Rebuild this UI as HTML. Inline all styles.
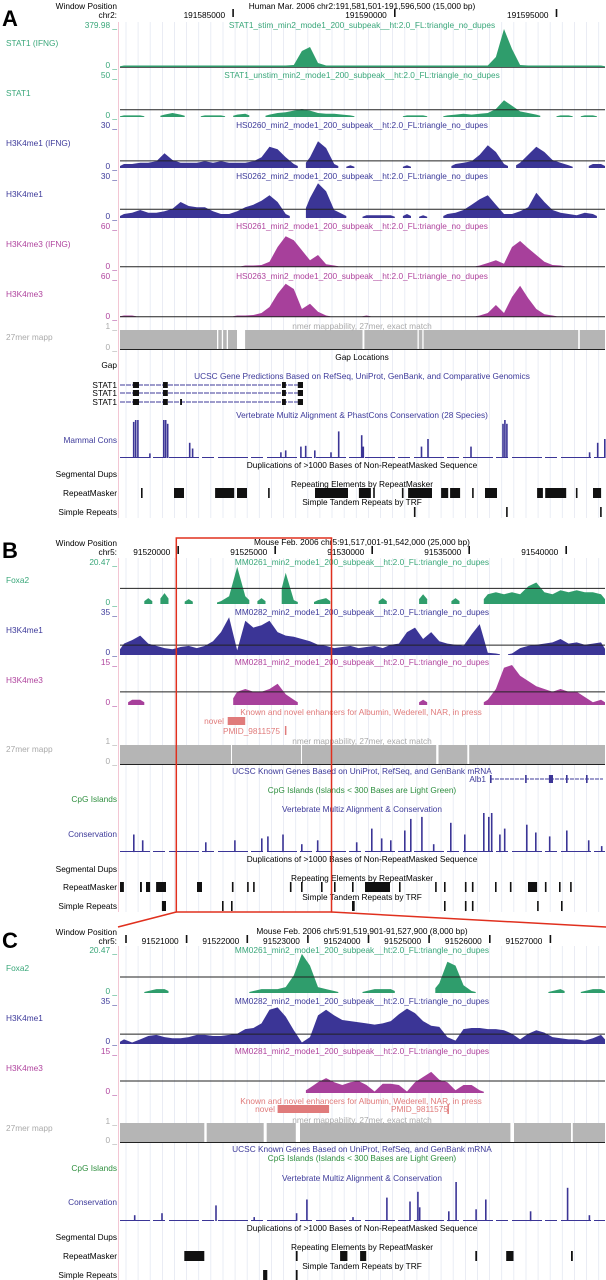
<!DOCTYPE html>
<html><head><meta charset="utf-8">
<style>
html,body{margin:0;padding:0;background:#fff;}
svg{display:block;font-family:"Liberation Sans",sans-serif;}
text{font-size:8.3px;}
.t{text-anchor:middle;}
.r{text-anchor:end;}
</style></head>
<body>
<svg id="fig" width="606" height="1280" viewBox="0 0 606 1280" xmlns="http://www.w3.org/2000/svg">
<rect width="606" height="1280" fill="#fff"/>
<g id="grid"></g>
<g id="marks"></g>

<!-- Panel A text -->
<g>
<text x="2" y="26" style="font-size:22px;font-weight:bold">A</text>
<text x="117" y="9" class="r">Window Position</text>
<text x="117" y="18" class="r">chr2:</text>
<text x="362" y="9" class="t">Human Mar. 2006   chr2:191,581,501-191,596,500 (15,000 bp)</text>
<text x="117" y="28" class="r" fill="#3aa77a">379.98 _</text>
<text x="117" y="68" class="r" fill="#3aa77a">0 _</text>
<text x="362" y="28" class="t" fill="#3aa77a">STAT1_stim_min2_mode1_200_subpeak__ht:2.0_FL:triangle_no_dupes</text>
<text x="6" y="46" fill="#3aa77a">STAT1 (IFNG)</text>
<text x="117" y="78" class="r" fill="#3aa77a">50 _</text>
<text x="117" y="118" class="r" fill="#3aa77a">0 _</text>
<text x="362" y="78" class="t" fill="#3aa77a">STAT1_unstim_min2_mode1_200_subpeak__ht:2.0_FL:triangle_no_dupes</text>
<text x="6" y="96" fill="#3aa77a">STAT1</text>
<text x="117" y="128" class="r" fill="#3d3a9a">30 _</text>
<text x="117" y="169" class="r" fill="#3d3a9a">0 _</text>
<text x="362" y="128" class="t" fill="#3d3a9a">HS0260_min2_mode1_200_subpeak__ht:2.0_FL:triangle_no_dupes</text>
<text x="6" y="146" fill="#3d3a9a">H3K4me1 (IFNG)</text>
<text x="117" y="179" class="r" fill="#3d3a9a">30 _</text>
<text x="117" y="219" class="r" fill="#3d3a9a">0 _</text>
<text x="362" y="179" class="t" fill="#3d3a9a">HS0262_min2_mode1_200_subpeak__ht:2.0_FL:triangle_no_dupes</text>
<text x="6" y="197" fill="#3d3a9a">H3K4me1</text>
<text x="117" y="229" class="r" fill="#b0449e">60 _</text>
<text x="117" y="269" class="r" fill="#b0449e">0 _</text>
<text x="362" y="229" class="t" fill="#b0449e">HS0261_min2_mode1_200_subpeak__ht:2.0_FL:triangle_no_dupes</text>
<text x="6" y="247" fill="#b0449e">H3K4me3 (IFNG)</text>
<text x="117" y="279" class="r" fill="#b0449e">60 _</text>
<text x="117" y="319" class="r" fill="#b0449e">0 _</text>
<text x="362" y="279" class="t" fill="#b0449e">HS0263_min2_mode1_200_subpeak__ht:2.0_FL:triangle_no_dupes</text>
<text x="6" y="297" fill="#b0449e">H3K4me3</text>
<text x="117" y="329" class="r" fill="#aaa">1 _</text>
<text x="117" y="350" class="r" fill="#aaa">0 _</text>
<text x="362" y="329" class="t" fill="#aaa">nmer mappability, 27mer, exact match</text>
<text x="6" y="340" fill="#aaa">27mer mapp</text>
<text x="362" y="360" class="t">Gap Locations</text>
<text x="117" y="368" class="r">Gap</text>
<text x="362" y="379" class="t" fill="#3d3a9a">UCSC Gene Predictions Based on RefSeq, UniProt, GenBank, and Comparative Genomics</text>
<text x="117" y="388" class="r">STAT1</text>
<text x="117" y="396" class="r">STAT1</text>
<text x="117" y="405" class="r">STAT1</text>
<text x="362" y="418" class="t" fill="#3d3a9a">Vertebrate Multiz Alignment &amp; PhastCons Conservation (28 Species)</text>
<text x="117" y="443" class="r" fill="#3d3a9a">Mammal Cons</text>
<text x="362" y="468" class="t">Duplications of &gt;1000 Bases of Non-RepeatMasked Sequence</text>
<text x="117" y="477" class="r">Segmental Dups</text>
<text x="362" y="487" class="t">Repeating Elements by RepeatMasker</text>
<text x="117" y="496" class="r">RepeatMasker</text>
<text x="362" y="505" class="t">Simple Tandem Repeats by TRF</text>
<text x="117" y="515" class="r">Simple Repeats</text>
</g>

<!-- Panel B text -->
<g>
<text x="2" y="558" style="font-size:22px;font-weight:bold">B</text>
<text x="117" y="546" class="r">Window Position</text>
<text x="117" y="555" class="r">chr5:</text>
<text x="362" y="545" class="t">Mouse Feb. 2006   chr5:91,517,001-91,542,000 (25,000 bp)</text>
<text x="117" y="565" class="r" fill="#3aa77a">20.47 _</text>
<text x="117" y="605" class="r" fill="#3aa77a">0 _</text>
<text x="362" y="565" class="t" fill="#3aa77a">MM0261_min2_mode1_200_subpeak__ht:2.0_FL:triangle_no_dupes</text>
<text x="6" y="583" fill="#3aa77a">Foxa2</text>
<text x="117" y="615" class="r" fill="#3d3a9a">35 _</text>
<text x="117" y="655" class="r" fill="#3d3a9a">0 _</text>
<text x="362" y="615" class="t" fill="#3d3a9a">MM0282_min2_mode1_200_subpeak__ht:2.0_FL:triangle_no_dupes</text>
<text x="6" y="633" fill="#3d3a9a">H3K4me1</text>
<text x="117" y="665" class="r" fill="#b0449e">15 _</text>
<text x="117" y="705" class="r" fill="#b0449e">0 _</text>
<text x="362" y="665" class="t" fill="#b0449e">MM0281_min2_mode1_200_subpeak__ht:2.0_FL:triangle_no_dupes</text>
<text x="6" y="683" fill="#b0449e">H3K4me3</text>
<text x="361" y="715" class="t" fill="#e07b7b">Known and novel enhancers for Albumin, Wederell, NAR, in press</text>
<text x="224" y="724" class="r" fill="#e07b7b">novel</text>
<text x="280" y="734" class="r" fill="#e07b7b">PMID_9811575</text>
<text x="117" y="744" class="r" fill="#aaa">1 _</text>
<text x="117" y="764" class="r" fill="#aaa">0 _</text>
<text x="362" y="744" class="t" fill="#aaa">nmer mappability, 27mer, exact match</text>
<text x="6" y="752" fill="#aaa">27mer mapp</text>
<text x="362" y="774" class="t" fill="#3d3a9a">UCSC Known Genes Based on UniProt, RefSeq, and GenBank mRNA</text>
<text x="486" y="782" class="r" fill="#3d3a9a">Alb1</text>
<text x="362" y="793" class="t" fill="#2f8f3f">CpG Islands (Islands &lt; 300 Bases are Light Green)</text>
<text x="117" y="802" class="r" fill="#2f8f3f">CpG Islands</text>
<text x="362" y="812" class="t" fill="#3d3a9a">Vertebrate Multiz Alignment &amp; Conservation</text>
<text x="117" y="837" class="r" fill="#3d3a9a">Conservation</text>
<text x="362" y="862" class="t">Duplications of &gt;1000 Bases of Non-RepeatMasked Sequence</text>
<text x="117" y="872" class="r">Segmental Dups</text>
<text x="362" y="881" class="t">Repeating Elements by RepeatMasker</text>
<text x="117" y="890" class="r">RepeatMasker</text>
<text x="362" y="900" class="t">Simple Tandem Repeats by TRF</text>
<text x="117" y="909" class="r">Simple Repeats</text>
</g>

<!-- Panel C text -->
<g>
<text x="2" y="948" style="font-size:22px;font-weight:bold">C</text>
<text x="117" y="935" class="r">Window Position</text>
<text x="117" y="944" class="r">chr5:</text>
<text x="362" y="934" class="t">Mouse Feb. 2006   chr5:91,519,901-91,527,900 (8,000 bp)</text>
<text x="117" y="953" class="r" fill="#3aa77a">20.47 _</text>
<text x="117" y="994" class="r" fill="#3aa77a">0 _</text>
<text x="362" y="953" class="t" fill="#3aa77a">MM0261_min2_mode1_200_subpeak__ht:2.0_FL:triangle_no_dupes</text>
<text x="6" y="971" fill="#3aa77a">Foxa2</text>
<text x="117" y="1004" class="r" fill="#3d3a9a">35 _</text>
<text x="117" y="1044" class="r" fill="#3d3a9a">0 _</text>
<text x="362" y="1004" class="t" fill="#3d3a9a">MM0282_min2_mode1_200_subpeak__ht:2.0_FL:triangle_no_dupes</text>
<text x="6" y="1021" fill="#3d3a9a">H3K4me1</text>
<text x="117" y="1054" class="r" fill="#b0449e">15 _</text>
<text x="117" y="1094" class="r" fill="#b0449e">0 _</text>
<text x="362" y="1054" class="t" fill="#b0449e">MM0281_min2_mode1_200_subpeak__ht:2.0_FL:triangle_no_dupes</text>
<text x="6" y="1071" fill="#b0449e">H3K4me3</text>
<text x="361" y="1104" class="t" fill="#e07b7b">Known and novel enhancers for Albumin, Wederell, NAR, in press</text>
<text x="275" y="1112" class="r" fill="#e07b7b">novel</text>
<text x="448" y="1112" class="r" fill="#e07b7b">PMID_9811575</text>
<text x="117" y="1124" class="r" fill="#aaa">1 _</text>
<text x="117" y="1143" class="r" fill="#aaa">0 _</text>
<text x="362" y="1123" class="t" fill="#aaa">nmer mappability, 27mer, exact match</text>
<text x="6" y="1131" fill="#aaa">27mer mapp</text>
<text x="362" y="1152" class="t" fill="#3d3a9a">UCSC Known Genes Based on UniProt, RefSeq, and GenBank mRNA</text>
<text x="362" y="1161" class="t" fill="#2f8f3f">CpG Islands (Islands &lt; 300 Bases are Light Green)</text>
<text x="117" y="1171" class="r" fill="#2f8f3f">CpG Islands</text>
<text x="362" y="1181" class="t" fill="#3d3a9a">Vertebrate Multiz Alignment &amp; Conservation</text>
<text x="117" y="1205" class="r" fill="#3d3a9a">Conservation</text>
<text x="362" y="1231" class="t">Duplications of &gt;1000 Bases of Non-RepeatMasked Sequence</text>
<text x="117" y="1240" class="r">Segmental Dups</text>
<text x="362" y="1250" class="t">Repeating Elements by RepeatMasker</text>
<text x="117" y="1259" class="r">RepeatMasker</text>
<text x="362" y="1269" class="t">Simple Tandem Repeats by TRF</text>
<text x="117" y="1278" class="r">Simple Repeats</text>
</g>
<g id="overlay"></g>
</svg>
<script>
// ---------- DATA ----------
const _ = null;
// panel A signals (60 bins across window)
const a1Stat1Ifng = [4,4,4,4,4,4,4,4,4,4, 4,4,4,4,4,4,4,4,4,4, 4,20,160,200,40,6,4,4,4,4, 4,4,4,4,4,4,4,4,4,4, 4,4,4,4,4,8,100,380,180,20, 15,6,4,4,4,4,4,4,4,4];
const a2Stat1 = [2,2,2,_,_,3,5,3,_,_, 2,2,2,_,3,4,_,_,3,5, 6,8,10,8,5,4,4,3,2,_, _,_,_,_,_,2,2,2,_,_, 2,3,4,3,4,5,10,21,14,7, 5,3,_,_,2,2,_,2,2,_];
const a3H3k4me1Ifng = [3,3,4,4,5,11,6,4,4,4, 5,4,5,4,4,4,5,8,16,14, 8,3,_,8,20,15,3,_,2,_, _,_,_,_,_,2,_,_,_,_, _,3,4,5,10,17,12,3,_,4, 10,16,12,6,4,2,_,_,3,3];
const a4H3k4me1 = [3,4,6,4,4,5,7,12,9,8, 8,5,3,3,5,8,10,13,17,12, 3,_,_,15,26,20,6,3,_,_, 2,2,2,2,_,3,_,2,_,_, 3,4,6,10,14,17,10,3,3,5, 8,19,12,6,4,3,2,4,3,_];
const a5H3k4me3Ifng = [_,_,_,_,_,_,_,_,_,_, _,_,_,_,_,1,2,3,8,30, 46,40,25,10,18,4,1,_,_,_, _,_,_,_,_,_,_,_,_,_, _,_,_,_,2,6,10,5,30,39, 28,18,8,3,1,_,_,_,_,_];
const a6H3k4me3 = [1,1,_,_,_,_,_,_,_,_, _,_,_,_,1,2,3,6,15,35, 50,42,12,20,8,1,_,_,_,_, 1,_,_,_,_,_,_,_,_,_, _,_,_,_,1,6,18,6,30,47, 28,12,4,1,_,_,_,_,_,_];
// panel B signals
const b1Foxa2 = [_,_,_,3,_,5.6,_,_,2.5,_, _,_,1.5,4,19,4,_,3,_,_, 16,2,_,_,2,3,_,_,_,_, _,_,3,_,_,_,_,5,_,_, _,3,_,_,_,5,6,5,6,5, 9,11,6,5,7,6,7,6,6,5];
const b2H3k4me1 = [10,13,17,10,8,6,5,7,8,6, 8,12,20,33,4,30,24,26,30,20, 17,16,14,12,9,8,6,7,8,6, 7,8,6,9,10,20,24,14,20,12, 10,9,8,18,27,2,1,_,1,6, 8,9,10,11,14,10,11,9,10,11];
const b3H3k4me3 = [_,2,2,_,_,_,_,_,_,_, _,_,_,_,5,6,5,5,6,8, 4,2,_,_,_,_,_,_,_,_, _,_,_,_,_,_,_,2,_,_, _,_,_,_,_,2,6,14,15,11, 9,7,6,5,6,5,5,3,1,2];
// panel C signals
const c1Foxa2 = [_,_,_,1,2,2,_,_,_,_, _,_,_,_,_,_,1,2,2,2, 3,9,20,14,3,2,1,_,_,_, 1,2,2,2,_,_,_,_,_,5, 16,14,4,1,_,_,_,_,_,_, _,_,_,1,2,_,_,1,2,2];
const c2H3k4me1 = [4,1,4,7,8,6,5,5,6,8, 8,7,7,8,9,13,14,18,30,32, 24,12,1,6,25,30,25,21,20,19, 18,17,18,20,26,31,27,20,16,15, 6,3,13,14,14,13,13,12,9,4, 9,12,10,6,5,4,4,3,5,8];
const c3H3k4me3 = [_,_,_,_,_,_,_,_,_,_, _,_,_,_,_,_,_,_,_,_, _,_,_,2,4,5.6,4,3,4,4.5, 3,0.5,3.5,3.5,3,0.5,4,6,7.9,5, 4,1,3,3,1,_,_,_,_,_, _,_,_,_,_,_,_,_,_,_];
// conservation spikes: position (kb from window start) and score (0-1)
const aConsKb = [0.40,0.46,0.53,0.9,1.33,1.39,1.45,2.13,2.22,4.95,5.1,5.57,5.72,6.0,6.5,6.74,7.45,7.5,9.3,9.5,10.83,11.82,11.88,11.94,14.5,14.75,14.97];
const aConsVal = [0.95,1.0,1.0,0.12,1.0,1.0,0.9,0.4,0.25,0.15,0.2,0.3,0.32,0.2,0.15,0.7,0.6,0.3,0.3,0.5,0.3,0.9,1.0,0.9,0.15,0.4,0.5];
const bConsKb = [0.67,1.13,4.38,5.88,7.27,7.58,8.36,9.33,10.15,12.16,12.94,13.45,13.92,14.64,14.95,15.52,16.13,17.01,17.73,18.71,18.97,19.12,19.54,19.79,20.93,21.39,22.11,22.99,24.12,24.79];
const bConsVal = [0.45,0.3,0.25,0.3,0.35,0.4,0.45,0.2,0.3,0.25,0.6,0.35,0.3,0.55,0.85,0.9,0.2,0.75,0.45,1.0,0.9,1.0,0.45,0.6,0.7,0.5,0.4,0.55,0.3,0.15];
const cConsKb = [0.23,0.68,1.57,2.2,2.9,3.07,3.83,4.39,4.77,4.9,4.93,5.41,5.53,5.86,6.02,6.76,7.37,7.73];
const cConsVal = [0.15,0.2,0.4,0.1,0.2,0.55,0.1,0.6,0.5,0.75,0.35,0.25,1.0,0.3,0.55,0.25,0.85,0.15];
// RepeatMasker and TRF elements [startKb, endKb]
const aRepeats = [[0.65,0.7],[1.67,1.98],[2.94,3.53],[3.62,3.93],[4.58,4.63],[6.03,7.05],[7.39,7.76],[7.83,7.88],[8.72,8.77],[8.91,9.65],[9.93,10.15],[10.21,10.52],[10.89,10.94],[11.29,11.66],[12.9,13.08],[13.15,13.8],[14.1,14.15],[14.63,14.88]];
const aSimple = [[9.09,9.14],[11.94,11.99],[14.85,14.9]];
const bRepeats = [[0,0.2],[1.03,1.13],[1.34,1.55],[1.86,2.37],[3.97,4.23],[5.77,5.85],[6.55,6.63],[6.86,6.94],[8.76,8.84],[9.33,9.41],[10.36,10.44],[11.03,11.11],[11.96,12.04],[12.63,13.92],[14.38,14.46],[16.24,16.32],[16.7,16.78],[17.78,17.86],[18.14,18.22],[19.33,19.41],[20.1,20.18],[21.03,21.5],[21.9,21.98],[22.63,22.71],[23.2,23.28]];
const bSimple = [[2.16,2.37],[5.26,5.34],[5.72,5.8],[11.96,12.1],[16.7,16.78],[17.78,17.86],[18.14,18.22],[21.5,21.58],[22.73,22.81]];
const cRepeats = [[1.06,1.39],[2.9,2.93],[3.63,3.75],[3.96,4.06],[5.86,5.89],[6.37,6.49],[7.44,7.47]];
const cSimple = [[2.36,2.43],[2.9,2.93]];
// mappability dropouts [startKb,endKb]
const aMapGaps = [[3.0,3.04],[3.15,3.19],[3.3,3.34],[3.62,3.87],[7.5,7.56],[9.2,9.24],[9.35,9.39],[14.17,14.22]];
const bMapGaps = [[5.72,5.76],[9.33,9.37],[16.3,16.42],[17.9,18.0]];
const cMapGaps = [[1.39,1.43],[2.37,2.42],[2.9,2.97],[6.44,6.5],[7.44,7.47]];
// axis ticks (genomic coordinates)
const aTicks = [191585000,191590000,191595000];
const bTicks = [91520000,91525000,91530000,91535000,91540000];
const cTicks = [91520000,91521000,91522000,91523000,91524000,91525000,91526000,91527000];
// window starts and sizes (bp)
const aStart = 191581501, aSize = 15000;
const bStart = 91517001, bSize = 25000;
const cStart = 91519901, cSize = 8000;

// ---------- DRAWING ----------
const NS = 'http://www.w3.org/2000/svg';
const X0 = 120, DW = 485;
const marks = document.getElementById('marks');
const grid = document.getElementById('grid');
const overlay = document.getElementById('overlay');
function mk(tag, attrs, parent){const e=document.createElementNS(NS,tag);for(const k in attrs)e.setAttribute(k,attrs[k]);(parent||marks).appendChild(e);return e;}
function kbScale(sizeBp){return kb => X0 + kb*1000/sizeBp*DW;}

function gridLines(y0,y1){
  const gx = document.createElementNS(NS,'g');
  grid.appendChild(gx);
  
  
  for(let x=X0+6; x<606; x+=12.12){
    const l = mk('line',{x1:x.toFixed(1),x2:x.toFixed(1),y1:y0,y2:y1,stroke:'#e4e8f2','stroke-width':0.8},gx);
    
    
  }
  const p = mk('line',{x1:118.5,x2:118.5,y1:y0,y2:y1,stroke:'#f3c6d4','stroke-width':1},gx);
  
  
}
gridLines(22,518); gridLines(558,912); gridLines(946,1280);

function signal(vals,maxV,base,h,color,refV,name){
  const n = vals.length, bw = DW/n;
  const hOf = v => Math.max(1.5, v/maxV*h);
  let i = 0;
  while(i<n){
    if(vals[i]===null){ i++; continue; }
    let j = i;
    while(j+1<n && vals[j+1]!==null) j++;
    let d = 'M'+(X0+i*bw).toFixed(1)+','+base+' L'+(X0+i*bw).toFixed(1)+','+(base-hOf(vals[i])*0.5).toFixed(1);
    for(let k=i;k<=j;k++){
      d += ' L'+(X0+(k+0.5)*bw).toFixed(1)+','+(base-hOf(vals[k])).toFixed(1);
    }
    d += ' L'+(X0+(j+1)*bw).toFixed(1)+','+(base-hOf(vals[j])*0.5).toFixed(1)+' L'+(X0+(j+1)*bw).toFixed(1)+','+base+' Z';
    const p = mk('path',{d:d,fill:color});
    
    
    i = j+1;
  }
  if(refV!==null){
    const y = base - refV/maxV*h;
    const l = mk('line',{x1:X0,x2:605,y1:y.toFixed(1),y2:y.toFixed(1),stroke:'#222','stroke-width':1});
    
    
  }
}
const GRN='#2f9d6c', BLU='#3b3596', MAG='#a7409b';
signal(a1Stat1Ifng,380,67,38,GRN,null,'stat1-ifng');
const a1line = mk('line',{x1:X0,x2:605,y1:67.5,y2:67.5,stroke:'#222','stroke-width':0.8});


signal(a2Stat1,50,117,40,GRN,9,'stat1');
signal(a3H3k4me1Ifng,30,168,40,BLU,5.3,'h3k4me1-ifng');
signal(a4H3k4me1,30,218,40,BLU,6.5,'h3k4me1');
signal(a5H3k4me3Ifng,60,267,40,MAG,0.3,'h3k4me3-ifng');
signal(a6H3k4me3,60,317,40,MAG,0.3,'h3k4me3');
signal(b1Foxa2,20.47,604,40,GRN,8,'b-foxa2');
signal(b2H3k4me1,35,655,40,BLU,8.7,'b-h3k4me1');
signal(b3H3k4me3,15,705,40,MAG,4.9,'b-h3k4me3');
signal(c1Foxa2,20.47,993,40,GRN,8.2,'c-foxa2');
signal(c2H3k4me1,35,1044,40,BLU,8.7,'c-h3k4me1');
signal(c3H3k4me3,15,1093,40,MAG,4.5,'c-h3k4me3');

function mapp(gaps,sx,y0,y1,name){
  const r = mk('rect',{x:X0,y:y0,width:DW,height:y1-y0,fill:'#b5b5b5'});
  
  
  gaps.forEach(g=>{
    const w = mk('rect',{x:sx(g[0]).toFixed(1),y:y0,width:Math.max(1,sx(g[1])-sx(g[0])).toFixed(1),height:y1-y0,fill:'#fff'});
    
    
  });
  const l = mk('line',{x1:X0,x2:605,y1:y1+0.5,y2:y1+0.5,stroke:'#222','stroke-width':1});
  
  
}
const sA=kbScale(aSize), sB=kbScale(bSize), sC=kbScale(cSize);
mapp(aMapGaps,sA,330,349,'a-mappability');
mapp(bMapGaps,sB,745,764,'b-mappability');
mapp(cMapGaps,sC,1123,1142,'c-mappability');

function cons(kbs,vals,sx,base,h,name){
  const l = mk('line',{x1:X0,x2:605,y1:base-0.5,y2:base-0.5,stroke:BLU,'stroke-width':1,'stroke-dasharray':'30 3 12 4'});
  
  
  kbs.forEach((k,i)=>{
    const hh = vals[i]*h;
    const r = mk('rect',{x:sx(k).toFixed(1),y:(base-hh).toFixed(1),width:1.6,height:hh.toFixed(1),fill:BLU});
    
    
  });
}
cons(aConsKb,aConsVal,sA,458,38,'mammal-cons');
cons(bConsKb,bConsVal,sB,852,39,'b-conservation');
cons(cConsKb,cConsVal,sC,1221,39,'c-conservation');

function blocks(list,sx,y0,h,name){
  list.forEach(b=>{
    const r = mk('rect',{x:sx(b[0]).toFixed(1),y:y0,width:Math.max(1.4,sx(b[1])-sx(b[0])).toFixed(1),height:h,fill:'#111'});
    
    
  });
}
blocks(aRepeats,sA,488,10,'a-repeat-element');
blocks(aSimple,sA,507,10,'a-simple-repeat');
blocks(bRepeats,sB,882,10,'b-repeat-element');
blocks(bSimple,sB,901,10,'b-simple-repeat');
blocks(cRepeats,sC,1251,10,'c-repeat-element');
blocks(cSimple,sC,1270,10,'c-simple-repeat');

// gene models
const stat1Exons = [[0.40,0.59],[1.33,1.48],[5.01,5.13],[5.5,5.66]];
const stat1Extra = [[1.86,1.92]];
const alb1Exons = [[0,0.08],[1.81,1.89],[3.04,3.25],[3.92,4.0],[4.95,5.03]];
[385,393,402].forEach((y,row)=>{
  const ln = mk('line',{x1:X0,x2:sA(5.66),y1:y,y2:y,stroke:'#3d3a9a','stroke-width':1,'stroke-dasharray':'5 1'});
  
  
  const ex = row===2 ? stat1Exons.concat(stat1Extra) : stat1Exons;
  ex.forEach(e=>{
    const r = mk('rect',{x:sA(e[0]).toFixed(1),y:y-3,width:(sA(e[1])-sA(e[0])).toFixed(1),height:6,fill:'#111'});
    
    
  });
});
const alb1Start = 19.07;
const aln = mk('line',{x1:sB(alb1Start),x2:603,y1:779,y2:779,stroke:'#3d3a9a','stroke-width':1,'stroke-dasharray':'4 1'});


alb1Exons.forEach(e=>{
  const r = mk('rect',{x:sB(alb1Start+e[0]).toFixed(1),y:775,width:Math.max(1.5,sB(alb1Start+e[1])-sB(alb1Start+e[0])).toFixed(1),height:8,fill:'#3b3596'});
  
  
});

// enhancers
const enhB = [[5.55,6.45]], pmidB = [8.5], enhC = [[2.6,3.45]], pmidC = [5.4];
function enh(list,sx,y,name){
  list.forEach(e=>{
    const r = mk('rect',{x:sx(e[0]).toFixed(1),y:y-4,width:(sx(e[1])-sx(e[0])).toFixed(1),height:8,fill:'#e07b7b'});
    
    
  });
}
enh(enhB,sB,721,'b-enhancer');
const pb = mk('rect',{x:sB(pmidB[0]).toFixed(1),y:726,width:1.5,height:9,fill:'#e07b7b'});


enh(enhC,sC,1109,'c-enhancer');
const pc = mk('rect',{x:(sC(pmidC[0])).toFixed(1),y:1104,width:1.5,height:10,fill:'#e07b7b'});



// ruler ticks
function ruler(ticks,start,size,y,name){
  ticks.forEach(t=>{
    const x = X0 + (t-start)/size*DW;
    if(x<X0||x>605) return;
    const m = mk('rect',{x:(x-0.8).toFixed(1),y:y-9,width:1.6,height:8,fill:'#111'});
    
    
    if(x-50 > X0-4){
      const tx = mk('text',{x:(x-8).toFixed(1),y:y,'text-anchor':'end'});
      tx.textContent = String(t);
      
      
    }
  });
}
ruler(aTicks,aStart,aSize,18,'a-ruler');
ruler(bTicks,bStart,bSize,555,'b-ruler');
ruler(cTicks,cStart,cSize,944,'c-ruler');

// zoom box (panel C window within panel B)
const zx0 = X0 + (cStart-bStart)/bSize*DW, zx1 = X0 + (cStart+cSize-bStart)/bSize*DW;
const box = mk('rect',{x:zx0.toFixed(1),y:538,width:(zx1-zx0).toFixed(1),height:374,fill:'none',stroke:'#e0301e','stroke-width':1.5},overlay);


const z1 = mk('line',{x1:zx0,y1:912,x2:118,y2:927,stroke:'#e0301e','stroke-width':1.5},overlay);


const z2 = mk('line',{x1:zx1,y1:912,x2:606,y2:927,stroke:'#e0301e','stroke-width':1.5},overlay);


</script>
</body></html>
